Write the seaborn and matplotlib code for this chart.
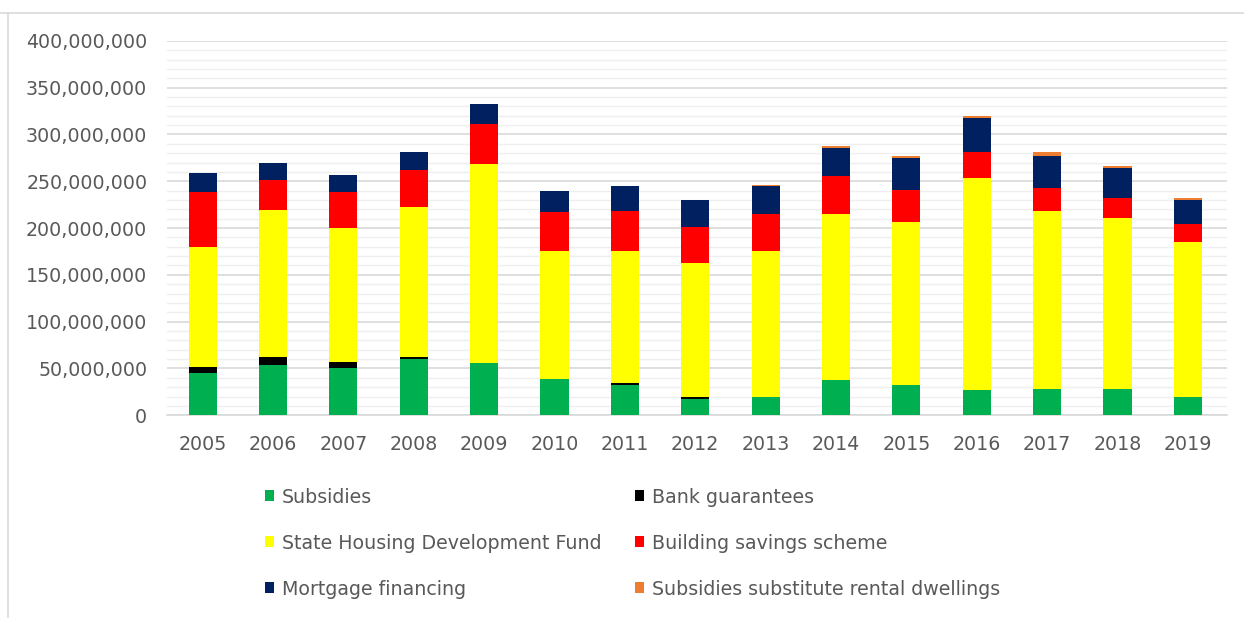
import numpy as np
import pandas as pd
import matplotlib
matplotlib.use("Agg")
import matplotlib.pyplot as plt
from matplotlib.patches import Patch
from matplotlib.lines import Line2D
from matplotlib.ticker import MultipleLocator, FuncFormatter
import seaborn as sns

# values in millions
years = [2005, 2006, 2007, 2008, 2009, 2010, 2011, 2012, 2013, 2014, 2015, 2016, 2017, 2018, 2019]
subsidies = [45.6, 54.2, 50.0, 60.6, 56.3, 39.2, 32.0, 17.1, 20.0, 37.4, 32.8, 26.7, 28.5, 28.5, 20.0]
bank_guarantees = [6.4, 8.5, 6.4, 2.1, 0.0, 0.0, 2.9, 2.9, 0.0, 0.0, 0.0, 0.0, 0.0, 0.0, 0.0]
housing_fund = [128.0, 156.3, 143.2, 160.3, 211.7, 136.8, 141.1, 143.0, 156.0, 177.4, 173.5, 226.3, 190.2, 181.7, 164.6]
building_savings = [58.0, 32.0, 38.5, 38.5, 42.7, 40.6, 42.7, 38.6, 38.5, 40.6, 34.2, 28.0, 23.9, 21.8, 19.2]
mortgage = [21.0, 19.0, 19.0, 19.5, 21.3, 23.4, 26.0, 28.2, 30.2, 29.6, 34.2, 36.0, 33.9, 32.0, 26.0]
rental_subsidies = [0.0, 0.0, 0.0, 0.0, 0.0, 0.0, 0.0, 0.0, 1.8, 2.4, 2.1, 2.9, 4.9, 2.4, 1.8]

series = [
    ("Subsidies", subsidies, "#00B050"),
    ("Bank guarantees", bank_guarantees, "#000000"),
    ("State Housing Development Fund", housing_fund, "#FFFF00"),
    ("Building savings scheme", building_savings, "#FF0000"),
    ("Mortgage financing", mortgage, "#002060"),
    ("Subsidies substitute rental dwellings", rental_subsidies, "#ED7D31"),
]

sns.set_style("white")
plt.rcParams["font.family"] = ["DejaVu Sans"]

fig = plt.figure(figsize=(12.44, 6.18), dpi=100)
ax = fig.add_axes([0.134, 0.328, 0.852, 0.606])

bottom = np.zeros(len(years))
for name, vals, color in series:
    df = pd.DataFrame({"year": [str(y) for y in years], "value": np.array(vals) * 1e6})
    sns.barplot(data=df, x="year", y="value", color=color, width=0.4,
                bottom=bottom, ax=ax, saturation=1, edgecolor="none", linewidth=0, zorder=3)
    bottom = bottom + df["value"].values

ax.set_ylim(0, 400e6)
ax.set_xlim(-0.51, 14.55)
ax.yaxis.set_major_locator(MultipleLocator(50e6))
ax.yaxis.set_minor_locator(MultipleLocator(10e6))
ax.yaxis.set_major_formatter(FuncFormatter(lambda v, p: f"{int(round(v)):,}"))
ax.grid(axis="y", which="major", color="#D9D9D9", linewidth=1.2, zorder=0)
ax.grid(axis="y", which="minor", color="#EFEFEF", linewidth=1.0, zorder=0)
ax.set_axisbelow(True)
for s in ["top", "right", "left"]:
    ax.spines[s].set_visible(False)
ax.spines["bottom"].set_color("#D9D9D9")
ax.spines["bottom"].set_linewidth(1.2)
ax.tick_params(axis="both", which="both", length=0, labelsize=13.7, colors="#595959")
ax.tick_params(axis="y", pad=14)
ax.tick_params(axis="x", pad=14)
ax.set_xlabel("")
ax.set_ylabel("")

handles = [Patch(facecolor=c, edgecolor="none", label=n) for n, v, c in series]
order = [0, 2, 4, 1, 3, 5]
fig.legend([handles[i] for i in order], [handles[i].get_label() for i in order],
           ncol=2, loc="upper left", bbox_to_anchor=(0.205, 1 - 478 / 618),
           frameon=False, fontsize=13.7, handlelength=0.5, handleheight=0.5,
           handletextpad=0.4, labelspacing=1.42, columnspacing=1.75, borderpad=0,
           labelcolor="#595959")

# outer frame lines of the chart area
fig.add_artist(Line2D([0, 1], [1 - 13 / 618, 1 - 13 / 618], transform=fig.transFigure,
                      color="#D9D9D9", linewidth=1.2))
fig.add_artist(Line2D([8 / 1244, 8 / 1244], [0, 1 - 13 / 618], transform=fig.transFigure,
                      color="#D9D9D9", linewidth=1.2))

fig.savefig("out.png", dpi=100)
